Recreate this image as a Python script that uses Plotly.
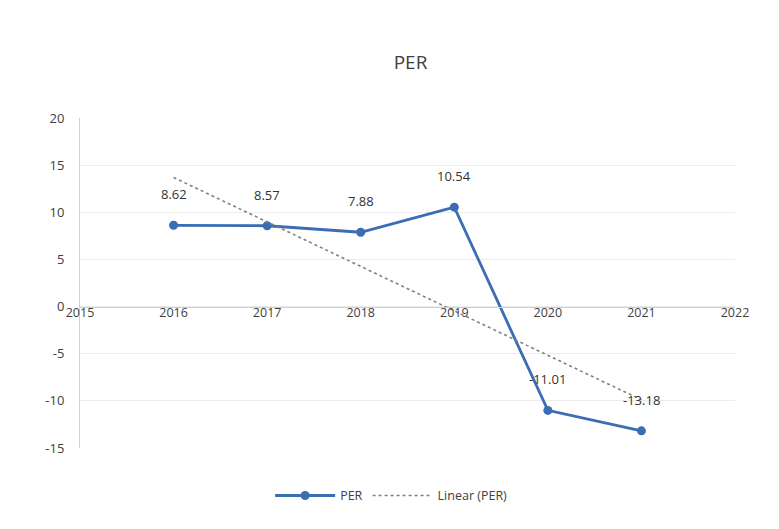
import numpy as np
import plotly.graph_objects as go

years = [2016, 2017, 2018, 2019, 2020, 2021]
per = [8.62, 8.57, 7.88, 10.54, -11.01, -13.18]
labels = ["8.62", "8.57", "7.88", "10.54", "-11.01", "-13.18"]
x_ticks = [2015, 2016, 2017, 2018, 2019, 2020, 2021, 2022]
y_ticks = [-15, -10, -5, 0, 5, 10, 15, 20]
y_tick_text = ["-15", "-10", "-5", "0", "5", "10", "15", "20"]

# linear trendline fitted to the series
coef = np.polyfit(years, per, 1)
trend = np.polyval(coef, years)

font_family = "Open Sans, Liberation Sans, Arial"
txt = "#404040"
ymin, ymax = -15, 20

fig = go.Figure()
fig.add_trace(go.Scatter(
    x=years, y=per, mode="lines+markers", name="PER",
    line=dict(color="#3a6db3", width=2.8),
    marker=dict(color="#3a6db3", size=9),
))
fig.add_trace(go.Scatter(
    x=years, y=trend, mode="lines", name="Linear (PER)",
    line=dict(color="#808080", width=1.6, dash="dot"),
))

for xv, yv, lab in zip(years, per, labels):
    fig.add_annotation(x=xv, y=yv, text=lab, showarrow=False, yshift=31,
                       font=dict(size=13, color="#333333", family=font_family))

fig.update_layout(
    width=779, height=529,
    margin=dict(l=80, r=44, t=118, b=81),
    paper_bgcolor="white", plot_bgcolor="white",
    title=dict(text="PER", x=0.527, xanchor="center", y=0.883, yanchor="middle",
               font=dict(size=19, color="#404040", family=font_family)),
    font=dict(family=font_family, color=txt, size=13),
    showlegend=True,
    legend=dict(orientation="h", x=0.475, xanchor="center", y=-0.145, yanchor="middle",
                font=dict(size=12.5, color=txt), itemwidth=60),
    xaxis=dict(range=[2015, 2022], tickvals=x_ticks, ticktext=[str(v) for v in x_ticks],
               showgrid=False, zeroline=False,
               showline=True, linecolor="#d0d0d0", linewidth=1,
               anchor="free", position=(0 - ymin) / (ymax - ymin),
               ticks="", tickfont=dict(size=12.5, color=txt), ticklabelstandoff=-6),
    yaxis=dict(range=[ymin, ymax], tickvals=y_ticks, ticktext=y_tick_text, showgrid=True,
               gridcolor="#ececec", gridwidth=1, zeroline=False,
               showline=True, linecolor="#d0d0d0", ticks="",
               tickfont=dict(size=13, color=txt), ticklabelstandoff=12),
)

fig.write_html("out.html")
